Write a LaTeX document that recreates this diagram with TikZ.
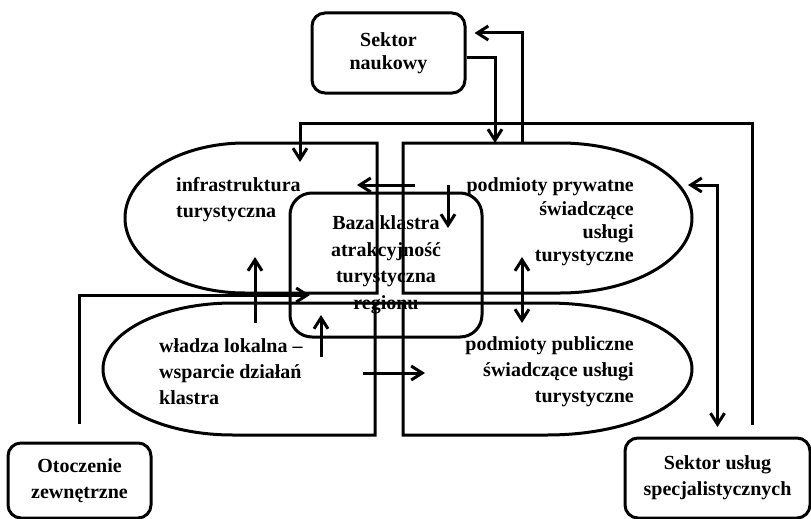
\documentclass[tikz,border=0pt]{standalone}
\usepackage{fontspec}
\setmainfont{Liberation Serif}
\usetikzlibrary{arrows.meta,positioning}
\tikzset{
    every node/.style={font=\bfseries\fontsize{20}{26}\selectfont},
    sector node/.style={draw,line width=3pt,rounded corners=13pt,align=center,inner sep=0pt},
    label node/.style={inner sep=0pt},
    area line/.style={line width=3pt},
    link/.style={line width=3pt,->},
    link both/.style={line width=3pt,<->}
}

\begin{document}
\begin{tikzpicture}[
            x = 1pt, y = -1pt, % grid of the scan
            > = {Straight Barb[length=11pt,width=14pt]}, % open arrow head
            line join = miter
        ]
        \useasboundingbox (0,0) rectangle (811,519);

        % core of the cluster
        \node[sector node, rounded corners=22pt, minimum width=192pt, minimum height=144pt,
              font=\bfseries\fontsize{20}{26.5}\selectfont] (baza) at (386,265)
              {Baza klastra\\atrakcyjność\\turystyczna\\regionu};

        % the four areas
        \draw[area line] (377,143) -- (245,143)
            arc[start angle=90, end angle=270, x radius=120pt, y radius=75pt]
            -- (377,293) -- cycle;
        \draw[area line] (403,143) -- (560,143)
            arc[start angle=90, end angle=-90, x radius=132pt, y radius=75pt]
            -- (403,293) -- cycle;
        \draw[area line] (403,303) -- (233,303)
            arc[start angle=90, end angle=270, x radius=130pt, y radius=66pt]
            -- (375,435) -- (375,303);
        \draw[area line] (403,303) -- (547,303)
            arc[start angle=90, end angle=-90, x radius=145pt, y radius=66pt]
            -- (403,435) -- cycle;

        \node[label node, anchor=west, align=left] (infra) at (176,200) {infrastruktura\\turystyczna};
        \node[label node, anchor=east, align=right,
              font=\bfseries\fontsize{20}{23.3}\selectfont] (pryw) at (634,222)
              {podmioty prywatne\\świadczące\\usługi\\turystyczne};
        \node[label node, anchor=west, align=left] (wladza) at (159,372) {władza lokalna –\\wsparcie działań\\klastra};
        \node[label node, anchor=east, align=right] (publ) at (634,372) {podmioty publiczne\\świadczące usługi\\turystyczne};

        % outer sectors
        \node[sector node, minimum width=153pt, minimum height=80pt,
              font=\bfseries\fontsize{20}{23}\selectfont] (nauk) at (388.5,53) {Sektor\\naukowy};
        \node[sector node, minimum width=143pt, minimum height=75pt] (otocz) at (79.5,480.5) {Otoczenie\\zewnętrzne};
        \node[sector node, minimum width=185pt, minimum height=80pt] (uslugi) at (717.5,478) {Sektor usług\\specjalistycznych};

        % ends of the links
        \coordinate (pryw top) at (495,143);
        \coordinate (pryw back) at (522,143);
        \coordinate (infra top) at (300,162);
        \coordinate (pryw side) at (688,185);
        \coordinate (baza left) at (310,295);
        \coordinate (pryw out) at (415,185);
        \coordinate (infra in) at (357,185);
        \coordinate (pryw down) at (448,185);
        \coordinate (baza in) at (448,228);
        \coordinate (wladza up) at (255,323);
        \coordinate (infra low) at (255,257);
        \coordinate (wladza core) at (321,357);
        \coordinate (baza low) at (321,315);
        \coordinate (wladza out) at (363,373);
        \coordinate (publ in) at (425,373);
        \coordinate (pryw low) at (522,257);
        \coordinate (publ top) at (522,323);

        \draw[link] ([yshift=-5pt]nauk.east) -| (pryw top);
        \draw[link] (pryw back) |- ([xshift=8pt,yshift=20pt]nauk.east);
        \draw[link, shorten <=12pt] ([xshift=34.5pt]uslugi.north) |- ([yshift=39pt]infra top) -- (infra top);
        \draw[link both, shorten >=9.5pt] (pryw side) -| (uslugi.north);
        \draw[link, shorten <=17.5pt] (otocz.north) |- (baza left);

        \draw[link] (pryw out) -- (infra in);
        \draw[link] (pryw down) -- (baza in);
        \draw[link] (wladza up) -- (infra low);
        \draw[link] (wladza core) -- (baza low);
        \draw[link] (wladza out) -- (publ in);
        \draw[link both] (pryw low) -- (publ top);

\end{tikzpicture}
\end{document}
